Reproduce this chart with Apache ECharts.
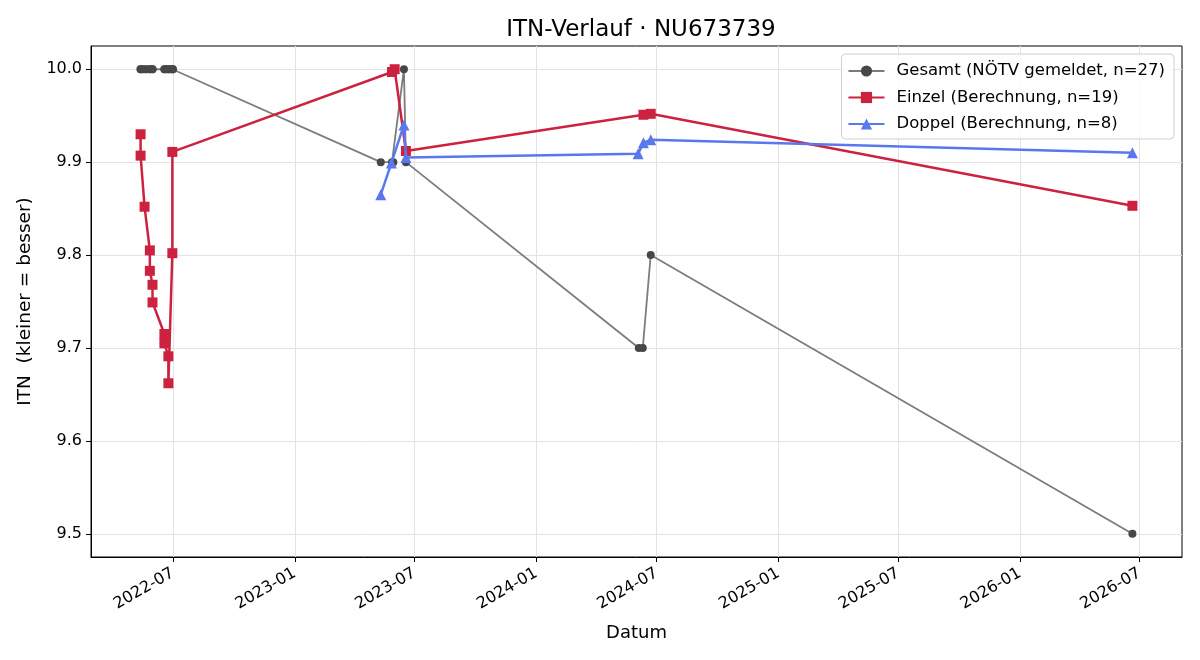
<!DOCTYPE html>
<html>
<head>
<meta charset="utf-8">
<script src="https://cdn.jsdelivr.net/npm/echarts@6/dist/echarts.min.js"></script>
<style>html,body{margin:0;padding:0;background:#fff;}#c{width:1200px;height:660px;}</style>
</head>
<body>
<div id="c"></div>
<script>
const gesamtDates = ['2022-05-13','2022-05-13','2022-05-16','2022-05-19','2022-05-22','2022-05-27','2022-05-27','2022-05-31','2022-05-31','2022-06-18','2022-06-18','2022-06-21','2022-06-24','2022-06-24','2022-06-27','2022-06-30','2022-06-30','2022-07-01','2023-05-11','2023-05-28','2023-05-30','2023-06-15','2023-06-18','2024-06-04','2024-06-10','2024-06-22','2026-06-20'];
const gesamtValues = [10.0,10.0,10.0,10.0,10.0,10.0,10.0,10.0,10.0,10.0,10.0,10.0,10.0,10.0,10.0,10.0,10.0,10.0,9.9,9.9,9.9,10.0,9.9,9.7,9.7,9.8,9.5];

const einzelDates = ['2022-05-13','2022-05-13','2022-05-19','2022-05-27','2022-05-27','2022-05-31','2022-05-31','2022-06-18','2022-06-18','2022-06-24','2022-06-24','2022-06-30','2022-06-30','2023-05-28','2023-06-01','2023-06-18','2024-06-11','2024-06-22','2026-06-20'];
const einzelValues = [9.930,9.907,9.852,9.805,9.783,9.768,9.749,9.715,9.705,9.691,9.662,9.802,9.911,9.997,10.0,9.912,9.951,9.952,9.853];

const doppelDates = ['2023-05-11','2023-05-27','2023-06-15','2023-06-18','2024-06-03','2024-06-11','2024-06-22','2026-06-20'];
const doppelValues = [9.865,9.899,9.940,9.905,9.909,9.921,9.924,9.910];

const xTickLabels = ['2022-07','2023-01','2023-07','2024-01','2024-07','2025-01','2025-07','2026-01','2026-07'];
const yTickLabels = [9.5,9.6,9.7,9.8,9.9,10.0];

const seriesNames = ['Gesamt (NÖTV gemeldet, n=27)','Einzel (Berechnung, n=19)','Doppel (Berechnung, n=8)'];

function ts(s){const p=s.split('-').map(Number);return Date.UTC(p[0],p[1]-1,p[2]||1);}
function pairs(d,v){return d.map((x,i)=>[ts(x),v[i]]);}

const allT = [].concat(gesamtDates,einzelDates,doppelDates).map(ts);
const tMin = Math.min.apply(null,allT), tMax = Math.max.apply(null,allT);
const tPad = (tMax-tMin)*0.05;
const allV = [].concat(gesamtValues,einzelValues,doppelValues);
const vMin = Math.min.apply(null,allV), vMax = Math.max.apply(null,allV);
const vPad = (vMax-vMin)*0.05;

const FONT = 'DejaVu Sans';
const chart = echarts.init(document.getElementById('c'));
chart.setOption({
  animation:false,
  backgroundColor:'#fff',
  textStyle:{fontFamily:FONT},
  title:{text:'ITN-Verlauf · NU673739',left:636,textAlign:'center',top:14,textStyle:{fontFamily:FONT,fontSize:23,fontWeight:'normal',color:'#000'}},
  grid:{left:91,right:18,top:46,bottom:103,show:true,borderColor:'#000',borderWidth:1,containLabel:false},
  legend:{
    orient:'vertical',right:26,top:54,
    itemWidth:36,itemHeight:14,itemGap:6.5,
    padding:[7,9,5,6],
    backgroundColor:'rgba(255,255,255,0.85)',borderColor:'#d0d0d0',borderWidth:1,borderRadius:4,
    textStyle:{fontFamily:FONT,fontSize:16.5,lineHeight:20,color:'#000',padding:[0,0,0,7]},
    data:seriesNames
  },
  xAxis:{
    type:'value',min:tMin-tPad,max:tMax+tPad,scale:true,
    name:'Datum',nameLocation:'middle',nameGap:67,
    nameTextStyle:{fontFamily:FONT,fontSize:18,color:'#000'},
    axisLine:{show:true,lineStyle:{color:'#000',width:1}},
    axisTick:{show:true,length:5,lineStyle:{color:'#000'},customValues:xTickLabels.map(ts)},
    axisLabel:{customValues:xTickLabels.map(ts),rotate:30,margin:15,fontFamily:FONT,fontSize:16,color:'#000',
      formatter:function(v){const d=new Date(v);const m=d.getUTCMonth()+1;return d.getUTCFullYear()+'-'+(m<10?'0':'')+m;}},
    splitLine:{show:true,lineStyle:{color:'#e3e3e3',width:1}}
  },
  yAxis:{
    type:'value',min:vMin-vPad,max:vMax+vPad,scale:true,
    name:'ITN  (kleiner = besser)',nameLocation:'middle',nameGap:56,nameRotate:90,
    nameTextStyle:{fontFamily:FONT,fontSize:18.5,color:'#000'},
    axisLine:{show:true,lineStyle:{color:'#000',width:1}},
    axisTick:{show:true,length:5,lineStyle:{color:'#000'},customValues:yTickLabels},
    axisLabel:{customValues:yTickLabels,margin:9,fontFamily:FONT,fontSize:16,color:'#000',formatter:function(v){return v.toFixed(1);}},
    splitLine:{show:true,lineStyle:{color:'#e3e3e3',width:1}}
  },
  series:[
    {name:seriesNames[0],type:'line',data:pairs(gesamtDates,gesamtValues),symbol:'circle',symbolSize:8,
      lineStyle:{color:'#7c7c7c',width:1.8},itemStyle:{color:'#474747',opacity:1},z:2},
    {name:seriesNames[1],type:'line',data:pairs(einzelDates,einzelValues),symbol:'rect',symbolSize:10,
      lineStyle:{color:'#cc2240',width:2.5},itemStyle:{color:'#cc2240'},z:3},
    {name:seriesNames[2],type:'line',data:pairs(doppelDates,doppelValues),symbol:'triangle',symbolSize:11,
      lineStyle:{color:'#5a78ee',width:2.5},itemStyle:{color:'#5a78ee'},z:4}
  ]
});
</script>
</body>
</html>
